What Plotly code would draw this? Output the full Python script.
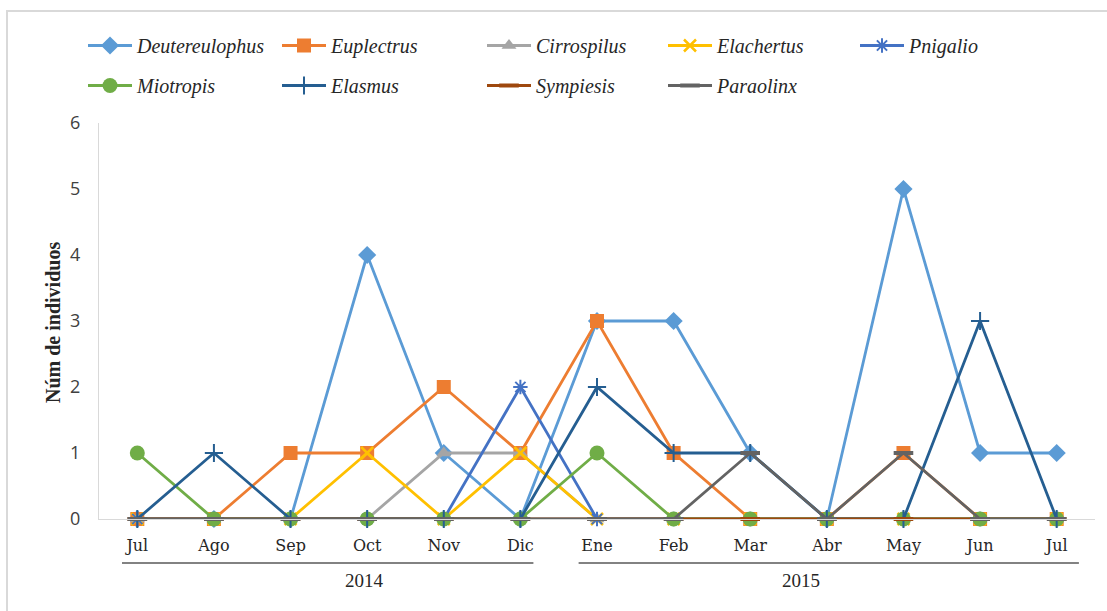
import plotly.graph_objects as go

months = ["Jul", "Ago", "Sep", "Oct", "Nov", "Dic", "Ene", "Feb", "Mar", "Abr", "May", "Jun", "Jul"]
years = ["2014", "2015"]

deutereulophus = [0, 0, 0, 4, 1, 0, 3, 3, 1, 0, 5, 1, 1]
euplectrus     = [0, 0, 1, 1, 2, 1, 3, 1, 0, 0, 1, 0, 0]
cirrospilus    = [0, 0, 0, 0, 1, 1, 0, 0, 0, 0, 0, 0, 0]
elachertus     = [0, 0, 0, 1, 0, 1, 0, 0, 0, 0, 0, 0, 0]
pnigalio       = [0, 0, 0, 0, 0, 2, 0, 0, 0, 0, 0, 0, 0]
miotropis      = [1, 0, 0, 0, 0, 0, 1, 0, 0, 0, 0, 0, 0]
elasmus        = [0, 1, 0, 0, 0, 0, 2, 1, 1, 0, 0, 3, 0]
sympiesis      = [0, 0, 0, 0, 0, 0, 0, 0, 0, 0, 0, 0, 0]
paraolinx      = [0, 0, 0, 0, 0, 0, 0, 0, 1, 0, 1, 0, 0]

series = [
    ("Deutereulophus", deutereulophus, "#5B9BD5", "diamond", 14, 0),
    ("Euplectrus", euplectrus, "#ED7D31", "square", 14, 0),
    ("Cirrospilus", cirrospilus, "#A5A5A5", "triangle-up", 13, 0),
    ("Elachertus", elachertus, "#FFC000", "x-thin-open", 12, 2.5),
    ("Pnigalio", pnigalio, "#4472C4", "asterisk-open", 12, 2),
    ("Miotropis", miotropis, "#70AD47", "circle", 15, 0),
    ("Elasmus", elasmus, "#255E91", "cross-thin-open", 13, 2),
    ("Sympiesis", sympiesis, "#9E480E", "line-ew-open", 14, 4),
    ("Paraolinx", paraolinx, "#636363", "line-ew-open", 14, 4),
]

# legend placement (pixel: text start x, row center y)
W, H = 1107, 611
L, R, T, B = 99, 12, 123, 92
leg_pos = [(137, 46), (331, 46), (536, 46), (717, 46), (909, 46),
           (137, 86), (331, 86), (536, 86), (717, 86)]
ITEMW = 44

x = list(range(len(months)))
fig = go.Figure()
for i, (name, vals, col, sym, size, lw) in enumerate(series):
    marker = dict(symbol=sym, size=size, color=col)
    if lw:
        marker["line"] = dict(color=col, width=lw)
    fig.add_trace(go.Scatter(
        x=x, y=vals, name=name, mode="lines+markers",
        line=dict(color=col, width=2.8), marker=marker,
        cliponaxis=False, legend="legend" if i == 0 else f"legend{i+1}",
    ))

layout_legends = {}
for i, (tx, ty) in enumerate(leg_pos):
    key = "legend" if i == 0 else f"legend{i+1}"
    layout_legends[key] = dict(
        xref="container", yref="container",
        x=(tx - ITEMW - 10) / W, y=1 - (ty - 20) / H,
        xanchor="left", yanchor="top",
        bgcolor="rgba(0,0,0,0)", borderwidth=0,
        itemwidth=ITEMW,
        font=dict(family="Liberation Serif", size=20, color="#262626", style="italic"),
    )

fig.update_layout(
    width=W, height=H,
    margin=dict(l=L, r=R, t=T, b=B, autoexpand=False),
    paper_bgcolor="white", plot_bgcolor="white",
    showlegend=True,
    **layout_legends,
)

fig.update_xaxes(
    range=[-0.5, 12.5], tickmode="array", tickvals=x, ticktext=months,
    showgrid=False, zeroline=False, showline=True, linecolor="#D9D9D9", linewidth=1,
    ticks="outside", ticklen=12, tickcolor="rgba(0,0,0,0)",
    tickfont=dict(family="DejaVu Serif", size=16, color="#262626"),
)
fig.update_yaxes(
    range=[0, 6], tickvals=[0, 1, 2, 3, 4, 5, 6],
    showgrid=False, zeroline=False, showline=True, linecolor="#D9D9D9", linewidth=1,
    ticks="outside", ticklen=14, tickcolor="rgba(0,0,0,0)",
    tickfont=dict(family="Open Sans", size=18, color="#404040"),
)

pw = W - L - R
ph = H - T - B
def px_x(p):
    return (p - L) / pw
def px_y(p):
    return (H - B - p) / ph

# outer frame
fig.add_shape(type="rect", xref="paper", yref="paper",
              x0=px_x(7), x1=px_x(W + 10), y0=px_y(H + 10), y1=px_y(11),
              line=dict(color="#D9D9D9", width=2), fillcolor="rgba(0,0,0,0)", layer="below")

# year group underlines and labels
groups = [(-0.2, 5.17, 2.96), (5.76, 12.29, 8.66)]
for (a, b, c), yr in zip(groups, years):
    fig.add_shape(type="line", xref="x", yref="paper", x0=a, x1=b,
                  y0=px_y(563), y1=px_y(563), line=dict(color="#595959", width=1.5))
    fig.add_annotation(x=c, y=px_y(580), xref="x", yref="paper", text=yr,
                       showarrow=False, xanchor="center", yanchor="middle",
                       font=dict(family="Liberation Serif", size=19, color="#262626"))

fig.add_annotation(x=px_x(53), y=px_y(323), xref="paper", yref="paper",
                   text="<b>Núm de individuos</b>", textangle=-90, showarrow=False,
                   xanchor="center", yanchor="middle",
                   font=dict(family="Liberation Serif", size=20, color="#262626"))

fig.write_html("out.html", config={"displayModeBar": False},
               post_script="document.body.style.margin='0';document.body.style.overflow='hidden';")
